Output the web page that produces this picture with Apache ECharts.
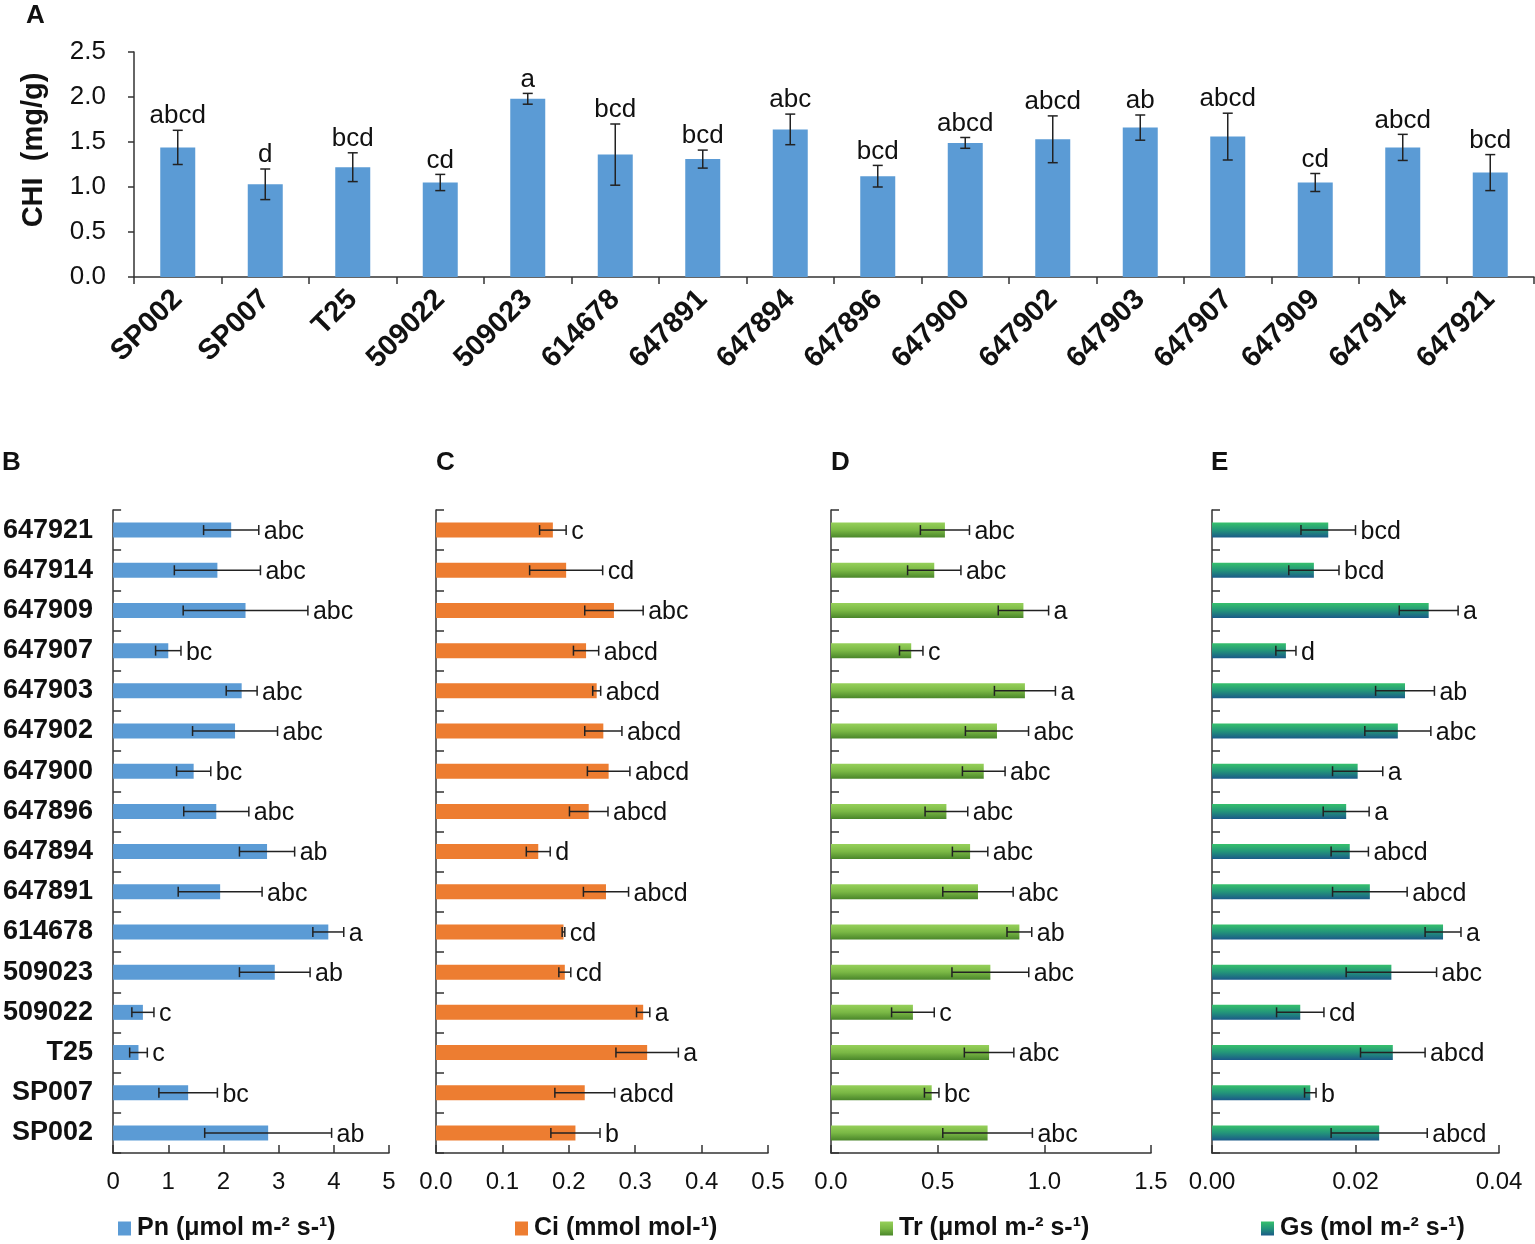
<!DOCTYPE html>
<html>
<head>
<meta charset="utf-8">
<script src="https://cdn.jsdelivr.net/npm/echarts@6/dist/echarts.min.js"></script>
<style>html,body{margin:0;padding:0;background:#fff}#c{width:1535px;height:1244px}</style>
</head>
<body>
<div id="c"></div>
<script>
// ---------- DATA ----------
const categories = ['SP002','SP007','T25','509022','509023','614678','647891','647894','647896','647900','647902','647903','647907','647909','647914','647921'];

const chiMean = [1.44,1.03,1.22,1.05,1.98,1.36,1.31,1.64,1.12,1.49,1.53,1.66,1.56,1.05,1.44,1.16];
const chiErr  = [0.19,0.17,0.16,0.09,0.06,0.34,0.10,0.17,0.12,0.06,0.26,0.14,0.26,0.10,0.145,0.20];
const chiLetters = ['abcd','d','bcd','cd','a','bcd','bcd','abc','bcd','abcd','abcd','ab','abcd','cd','abcd','bcd'];

const pnMean = [2.81,1.36,0.46,0.54,2.93,3.90,1.94,2.79,1.87,1.46,2.21,2.33,1.00,2.40,1.89,2.14];
const pnErr  = [1.15,0.53,0.16,0.20,0.64,0.28,0.76,0.50,0.59,0.31,0.77,0.28,0.23,1.13,0.78,0.50];
const pnLetters = ['ab','bc','c','c','ab','a','abc','ab','abc','bc','abc','abc','bc','abc','abc','abc'];

const ciMean = [0.210,0.224,0.318,0.312,0.194,0.192,0.256,0.154,0.230,0.260,0.252,0.242,0.226,0.268,0.196,0.176];
const ciErr  = [0.037,0.045,0.047,0.010,0.009,0.002,0.034,0.018,0.029,0.032,0.028,0.006,0.019,0.044,0.055,0.020];
const ciLetters = ['b','abcd','a','a','cd','cd','abcd','d','abcd','abcd','abcd','abcd','abcd','abc','cd','c'];

const trMean = [0.734,0.472,0.741,0.384,0.747,0.883,0.689,0.652,0.541,0.716,0.778,0.909,0.376,0.902,0.484,0.534];
const trErr  = [0.210,0.034,0.116,0.100,0.180,0.058,0.165,0.083,0.100,0.100,0.148,0.143,0.055,0.118,0.125,0.115];
const trLetters = ['abc','bc','abc','c','abc','ab','abc','abc','abc','abc','abc','a','c','a','abc','abc'];

const gsMean = [0.0233,0.0137,0.0252,0.0123,0.0250,0.0322,0.0220,0.0192,0.0187,0.0203,0.0259,0.0269,0.0103,0.0302,0.0142,0.0162];
const gsErr  = [0.0067,0.0008,0.0045,0.0033,0.0063,0.0025,0.0052,0.0026,0.0032,0.0035,0.0046,0.0041,0.0014,0.0041,0.0035,0.0038];
const gsLetters = ['abcd','b','abcd','cd','abc','a','abcd','abcd','a','a','abc','ab','d','a','bcd','bcd'];

const chiTicks = {min:0, max:2.5, interval:0.5};
const pnTicks = {min:0, max:5, interval:1};
const ciTicks = {min:0, max:0.5, interval:0.1};
const trTicks = {min:0, max:1.5, interval:0.5};
const gsTicks = {min:0, max:0.04, interval:0.02};

const chiName = 'CHI  (mg/g)';
const pnName = 'Pn (μmol m-² s-¹)';
const ciName = 'Ci (mmol mol-¹)';
const trName = 'Tr (μmol m-² s-¹)';
const gsName = 'Gs (mol m-² s-¹)';

// ---------- CHART ----------
const FF = '"Liberation Sans", Arial, sans-serif';
const AX = '#333';
const chart = echarts.init(document.getElementById('c'));

function vErr(letters){
  return function(params, api){
    const x = api.value(0), v = api.value(1), e = api.value(2);
    const t = api.coord([x, v+e]), b = api.coord([x, v-e]);
    const w = 5;
    return {type:'group', children:[
      {type:'line', shape:{x1:t[0],y1:t[1],x2:b[0],y2:b[1]}, style:{stroke:'#222',lineWidth:1.5}},
      {type:'line', shape:{x1:t[0]-w,y1:t[1],x2:t[0]+w,y2:t[1]}, style:{stroke:'#222',lineWidth:1.5}},
      {type:'line', shape:{x1:b[0]-w,y1:b[1],x2:b[0]+w,y2:b[1]}, style:{stroke:'#222',lineWidth:1.5}},
      {type:'text', style:{text:letters[params.dataIndex], x:t[0], y:t[1]-1, align:'center', verticalAlign:'bottom', fontSize:26, fontFamily:FF, fill:'#111'}}
    ]};
  };
}
function hErr(letters){
  return function(params, api){
    const v = api.value(0), y = api.value(1), e = api.value(2);
    const r = api.coord([v+e, y]), l = api.coord([v-e, y]);
    const h = 5;
    return {type:'group', children:[
      {type:'line', shape:{x1:l[0],y1:l[1],x2:r[0],y2:r[1]}, style:{stroke:'#222',lineWidth:1.5}},
      {type:'line', shape:{x1:l[0],y1:l[1]-h,x2:l[0],y2:l[1]+h}, style:{stroke:'#222',lineWidth:1.5}},
      {type:'line', shape:{x1:r[0],y1:r[1]-h,x2:r[0],y2:r[1]+h}, style:{stroke:'#222',lineWidth:1.5}},
      {type:'text', style:{text:letters[params.dataIndex], x:r[0]+5, y:r[1]+2, align:'left', verticalAlign:'middle', fontSize:25, fontFamily:FF, fill:'#111'}}
    ]};
  };
}

const grids = [
  {left:134, top:52, width:1400, height:225},
  {left:113, top:510, width:276, height:643},
  {left:436, top:510, width:332, height:643},
  {left:831, top:510, width:320, height:643},
  {left:1212, top:510, width:287, height:643}
];

const axisLine = {show:true, lineStyle:{color:AX, width:1.5}};

function valX(gi, ticks, fmt){
  return {type:'value', gridIndex:gi, min:ticks.min, max:ticks.max, interval:ticks.interval,
    axisLine:axisLine, axisTick:{show:true, inside:true, length:8, lineStyle:{color:AX,width:1.5}},
    splitLine:{show:false},
    axisLabel:{margin:17, fontSize:24, fontFamily:FF, color:'#111', formatter:fmt}};
}
function catY(gi, showLabel){
  return {type:'category', gridIndex:gi, data:categories,
    axisLine:axisLine, axisTick:{show:true, inside:true, length:8, lineStyle:{color:AX,width:1.5}},
    axisLabel:{show:showLabel, margin:20, fontSize:27, fontWeight:'bold', fontFamily:FF, color:'#111'}};
}

const greenGrad = new echarts.graphic.LinearGradient(0,0,0,1,[{offset:0,color:'#96d05a'},{offset:0.5,color:'#7ab845'},{offset:1,color:'#4a862a'}]);
const tealGrad = new echarts.graphic.LinearGradient(0,0,0,1,[{offset:0,color:'#36c06c'},{offset:0.5,color:'#23957a'},{offset:1,color:'#1b5a88'}]);

function hBars(gi, name, mean, color){
  return {type:'bar', name:name, xAxisIndex:gi, yAxisIndex:gi, data:mean, barWidth:15, itemStyle:{color:color}, z:2};
}
function hErrSeries(gi, mean, err, letters){
  return {type:'custom', xAxisIndex:gi, yAxisIndex:gi, renderItem:hErr(letters),
    data: mean.map((m,i)=>[m, i, err[i]]), encode:{x:0, y:1}, z:3, silent:true};
}

function legendAt(name, left){
  return {data:[name], left:left, top:1216, padding:0, itemWidth:13, itemHeight:14, itemGap:0,
    icon:'rect', textStyle:{fontSize:25, fontWeight:'bold', fontFamily:FF, color:'#111', padding:[0,0,0,1]}};
}

const option = {
  animation:false,
  backgroundColor:'#fff',
  grid:grids,
  legend:[legendAt(pnName,118), legendAt(ciName,515), legendAt(trName,880), legendAt(gsName,1261)],
  xAxis:[
    {type:'category', gridIndex:0, data:categories,
      axisLine:axisLine, axisTick:{show:true, length:7, lineStyle:{color:AX,width:1.5}},
      axisLabel:{rotate:45, margin:18, fontSize:29, fontWeight:'bold', fontFamily:FF, color:'#111', interval:0}},
    valX(1, pnTicks, v=>String(v)),
    valX(2, ciTicks, v=>v.toFixed(1)),
    valX(3, trTicks, v=>v.toFixed(1)),
    valX(4, gsTicks, v=>v.toFixed(2))
  ],
  yAxis:[
    {type:'value', gridIndex:0, min:chiTicks.min, max:chiTicks.max, interval:chiTicks.interval,
      axisLine:axisLine, axisTick:{show:true, length:6, lineStyle:{color:AX,width:1.5}},
      splitLine:{show:false},
      axisLabel:{margin:28, fontSize:26, fontFamily:FF, color:'#111', formatter:v=>v.toFixed(1)}},
    catY(1,true), catY(2,false), catY(3,false), catY(4,false)
  ],
  graphic:[
    {type:'text', x:34, y:150, rotation:Math.PI/2, style:{text:chiName, x:0, y:0, align:'center', verticalAlign:'middle', fontSize:29, fontWeight:'bold', fontFamily:FF, fill:'#111'}},
    {type:'text', left:26, top:3, style:{text:'A', fontSize:26, fontWeight:'bold', fontFamily:FF, fill:'#111'}},
    {type:'text', left:2, top:450, style:{text:'B', fontSize:26, fontWeight:'bold', fontFamily:FF, fill:'#111'}},
    {type:'text', left:436, top:450, style:{text:'C', fontSize:26, fontWeight:'bold', fontFamily:FF, fill:'#111'}},
    {type:'text', left:831, top:450, style:{text:'D', fontSize:26, fontWeight:'bold', fontFamily:FF, fill:'#111'}},
    {type:'text', left:1211, top:450, style:{text:'E', fontSize:26, fontWeight:'bold', fontFamily:FF, fill:'#111'}}
  ],
  series:[
    {type:'bar', name:'CHI', xAxisIndex:0, yAxisIndex:0, data:chiMean, barWidth:'40%', itemStyle:{color:'#5b9bd5'}, z:2},
    {type:'custom', xAxisIndex:0, yAxisIndex:0, renderItem:vErr(chiLetters),
      data: chiMean.map((m,i)=>[i, m, chiErr[i]]), encode:{x:0, y:1}, z:3, silent:true},
    hBars(1, pnName, pnMean, '#5b9bd5'), hErrSeries(1, pnMean, pnErr, pnLetters),
    hBars(2, ciName, ciMean, '#ed7d31'), hErrSeries(2, ciMean, ciErr, ciLetters),
    hBars(3, trName, trMean, greenGrad), hErrSeries(3, trMean, trErr, trLetters),
    hBars(4, gsName, gsMean, tealGrad), hErrSeries(4, gsMean, gsErr, gsLetters)
  ]
};
chart.setOption(option);
</script>
</body>
</html>
